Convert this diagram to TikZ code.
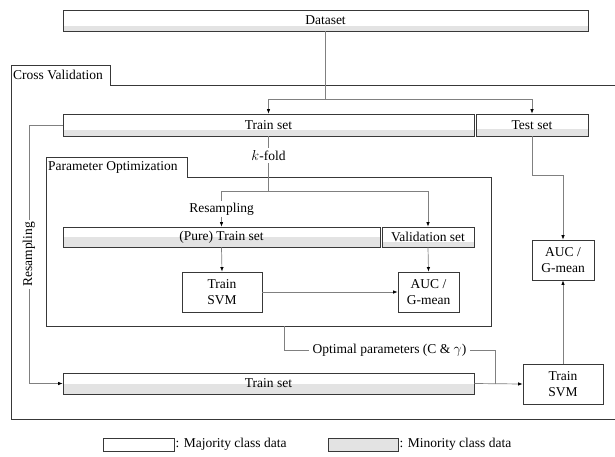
\documentclass[tikz,border=0pt]{standalone}
\usepackage{fontspec}
\setmainfont{Liberation Serif}
\usetikzlibrary{arrows.meta,calc}
\begin{document}
\begin{tikzpicture}[x=1pt,y=-1pt,
    every node/.style={font=\fontsize{13.5}{16.5}\selectfont},
    frame/.style={draw=black!78,line width=0.8pt},
    conn/.style={draw=black!50,line width=0.7pt,>={Latex[length=4.5pt,width=3.5pt,black]}},
    lbl/.style={fill=white,inner sep=2pt},
    setbox/.style={draw=black!78,line width=0.8pt,inner sep=0pt,
        path picture={\fill[black!11] (path picture bounding box.south west) rectangle
        ($(path picture bounding box.south east)!#1!(path picture bounding box.north east)$);}},
    svmbox/.style={draw=black!78,line width=0.8pt,align=center,minimum height=40,inner sep=1pt}]
    \useasboundingbox (0,0) rectangle (615,456);
    % frames
    \draw [frame] (11,419) -- (11,65) -- (110,65) -- (110,85) -- (615,85);
    \draw [frame] (11,419) -- (615,419);
    \node [anchor=west,inner sep=1pt] (cvlabel) at (12,75) {Cross Validation};
    \draw [frame] (46,326) -- (46,157) -- (187,157) -- (187,177) -- (491,177) -- (491,326) -- cycle;
    \node [anchor=west,inner sep=1pt] (polabel) at (47,167) {Parameter Optimization};
    % data sets
    \node [setbox=0.24,minimum width=525,minimum height=21] (dataset) at (325.5,20.5) {Dataset};
    \node [setbox=0.27,minimum width=411,minimum height=22] (trainset) at (268.5,125) {Train set};
    \node [setbox=0.3,minimum width=112,minimum height=22] (testset) at (532,125) {Test set};
    \node [setbox=0.5,minimum width=317,minimum height=20] (puretrain) at (221.5,237) {(Pure) Train set};
    \node [setbox=0.25,minimum width=92,minimum height=20] (validation) at (428,237) {Validation set};
    \node [setbox=0.5,minimum width=411,minimum height=21] (trainbot) at (268.5,383.5) {Train set};
    % models
    \node [svmbox,minimum width=80] (svmin) at (222,292) {Train\\SVM};
    \node [svmbox,minimum width=61] (aucin) at (428.5,292) {AUC /\\G-mean};
    \node [svmbox,minimum width=62] (aucout) at (563,260) {AUC /\\G-mean};
    \node [svmbox,minimum width=80] (svmout) at (563,384) {Train\\SVM};
    % connectors
    \coordinate (dsplit) at (325.5,99);
    \draw [conn] (dataset.south) -- (dsplit);
    \draw [conn,->] (dsplit) -| (trainset.north);
    \draw [conn,->] (dsplit) -| (testset.north);
    \coordinate (ksplit) at (268.5,191);
    \draw [conn] (trainset.south) -- node [lbl,pos=0.35] {$k$-fold} (ksplit);
    \draw [conn,->] (ksplit) -| node [lbl,pos=0.75] {Resampling} (puretrain.north);
    \draw [conn,->] (ksplit) -| (validation.north);
    \draw [conn,->] (puretrain.south) -- (svmin.north);
    \draw [conn,->] (validation.south) -- (aucin.north);
    \draw [conn,->] (svmin.east) -- (aucin.west);
    \draw [conn,->] (testset.south) -- ++(0,39) -| (aucout.north);
    \draw [conn,->] (svmout.north) -- (aucout.south);
    \coordinate (resx) at (29,0);
    \draw [conn,->] (trainset.west) -- (trainset.west -| resx)
        -- node [lbl,rotate=90] {Resampling} (trainbot.west -| resx) -- (trainbot.west);
    \coordinate (optA) at (284,326);
    \coordinate (optB) at (495,384);
    \draw [conn] (optA) -- (284,350) -- node [lbl,inner sep=4pt] {Optimal parameters ($\mathrm{C}$ \& $\gamma$)} (495,350) -- (optB);
    \draw [conn,->] (trainbot.east) -- (svmout.west);
    % legend
    \node [setbox=0,minimum width=71,minimum height=13] (majbox) at (138.5,444.5) {};
    \node [anchor=west,inner sep=1pt] (majtext) at (majbox.east) {: Majority class data};
    \node [setbox=1,minimum width=70,minimum height=13] (minbox) at (363,444.5) {};
    \node [anchor=west,inner sep=1pt] (mintext) at (minbox.east) {: Minority class data};
\end{tikzpicture}
\end{document}
